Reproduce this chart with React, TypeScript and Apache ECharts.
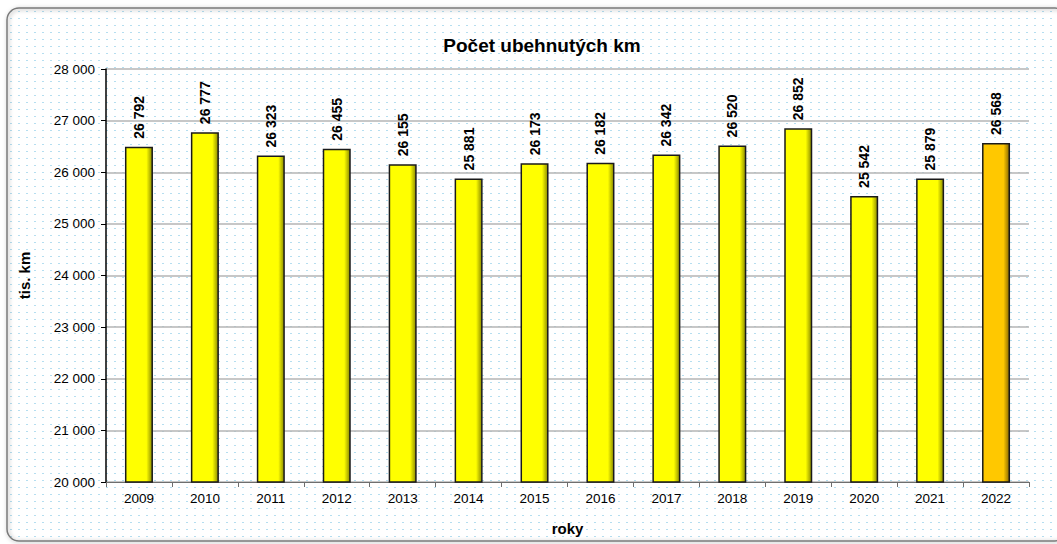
import React, { useEffect, useRef } from "react";
import * as echarts from "echarts";

const years = ["2009", "2010", "2011", "2012", "2013", "2014", "2015", "2016", "2017", "2018", "2019", "2020", "2021", "2022"];
// bar heights as drawn in the reference
const barValues = [26495, 26777, 26323, 26455, 26155, 25881, 26173, 26182, 26342, 26520, 26852, 25542, 25879, 26568];
// values printed in the data labels
const labelValues = [26792, 26777, 26323, 26455, 26155, 25881, 26173, 26182, 26342, 26520, 26852, 25542, 25879, 26568];
const yTicks = [20000, 21000, 22000, 23000, 24000, 25000, 26000, 27000, 28000];

const fmt = (v: number) => String(Math.round(v)).replace(/\B(?=(\d{3})+(?!\d))/g, " ");

const FONT = "Liberation Sans, Arial, sans-serif";

function barFill(highlight: boolean) {
  const main = highlight ? "#ffc800" : "#ffff00";
  const dark = highlight ? "#8a6a00" : "#8c8c00";
  return new echarts.graphic.LinearGradient(0, 0, 1, 0, [
    { offset: 0, color: main },
    { offset: 0.78, color: main },
    { offset: 1, color: dark },
  ]);
}

export default function App() {
  const ref = useRef<HTMLDivElement>(null);
  useEffect(() => {
    if (!ref.current) return;
    const chart = echarts.init(ref.current, undefined, { renderer: "svg" });
    chart.setOption({
      animation: false,
      backgroundColor: "transparent",
      textStyle: { fontFamily: FONT },
      graphic: [
        {
          type: "rect",
          shape: { x: 7, y: 8, width: 1060, height: 533, r: 12 },
          style: { fill: "transparent", stroke: "#7a7a7a", lineWidth: 1.5, shadowBlur: 4, shadowColor: "rgba(0,0,0,0.35)", shadowOffsetX: 1, shadowOffsetY: 1 },
          silent: true,
          z: -10,
        },
      ],
      title: {
        text: "Počet ubehnutých km",
        left: 537,
        top: 31,
        textAlign: "center",
        textStyle: { fontFamily: FONT, fontSize: 19, fontWeight: "bold", color: "#000" },
      },
      grid: { left: 106, right: 28, top: 69, bottom: 62, containLabel: false },
      xAxis: {
        type: "category",
        data: years,
        name: "roky",
        nameLocation: "middle",
        nameGap: 39,
        nameTextStyle: { fontFamily: FONT, fontSize: 15, fontWeight: "bold", color: "#000" },
        axisLine: { lineStyle: { color: "#6e6e6e", width: 1 } },
        axisTick: { show: true, alignWithLabel: false, length: 5, lineStyle: { color: "#6e6e6e" } },
        axisLabel: { fontFamily: FONT, fontSize: 13.5, color: "#000", margin: 9 },
      },
      yAxis: {
        type: "value",
        min: 20000,
        max: 28000,
        interval: 1000,
        name: "tis. km",
        nameLocation: "middle",
        nameGap: 74,
        nameRotate: 90,
        nameTextStyle: { fontFamily: FONT, fontSize: 15, fontWeight: "bold", color: "#000" },
        axisLine: { show: true, lineStyle: { color: "#000", width: 1.5 } },
        axisTick: { show: true, length: 5, lineStyle: { color: "#000" } },
        axisLabel: { fontFamily: FONT, fontSize: 13.5, color: "#000", margin: 11, formatter: (v: number) => (yTicks.includes(v) ? fmt(v) : "") },
        splitLine: { show: true, lineStyle: { color: "#b4b4b4", width: 1.5 } },
      },
      series: [
        {
          type: "bar",
          barWidth: 28,
          data: barValues.map((v, i) => ({
            value: v,
            itemStyle: { color: barFill(i === barValues.length - 1), borderColor: "#1a1a1a", borderWidth: 1.5 },
          })),
          label: {
            show: true,
            position: "top",
            rotate: 90,
            align: "left",
            verticalAlign: "middle",
            distance: 8,
            fontFamily: FONT,
            fontSize: 14,
            fontWeight: "bold",
            color: "#000",
            formatter: (p: any) => fmt(labelValues[p.dataIndex]),
          },
        },
      ],
    });
    return () => chart.dispose();
  }, []);
  return (
    <div style={{ position: "fixed", left: 0, top: 0, width: 1057, height: 544, backgroundColor: "#ffffff" }}>
      <div
        style={{
          position: "absolute",
          left: 7,
          top: 8,
          width: 1060,
          height: 533,
          borderRadius: 12,
          backgroundColor: "#ffffff",
          backgroundImage: "radial-gradient(circle, #b5def0 0.6px, transparent 0.9px)",
          backgroundSize: "8px 7px",
        }}
      />
      <div ref={ref} style={{ position: "absolute", left: 0, top: 0, width: 1057, height: 544 }} />
    </div>
  );
}
